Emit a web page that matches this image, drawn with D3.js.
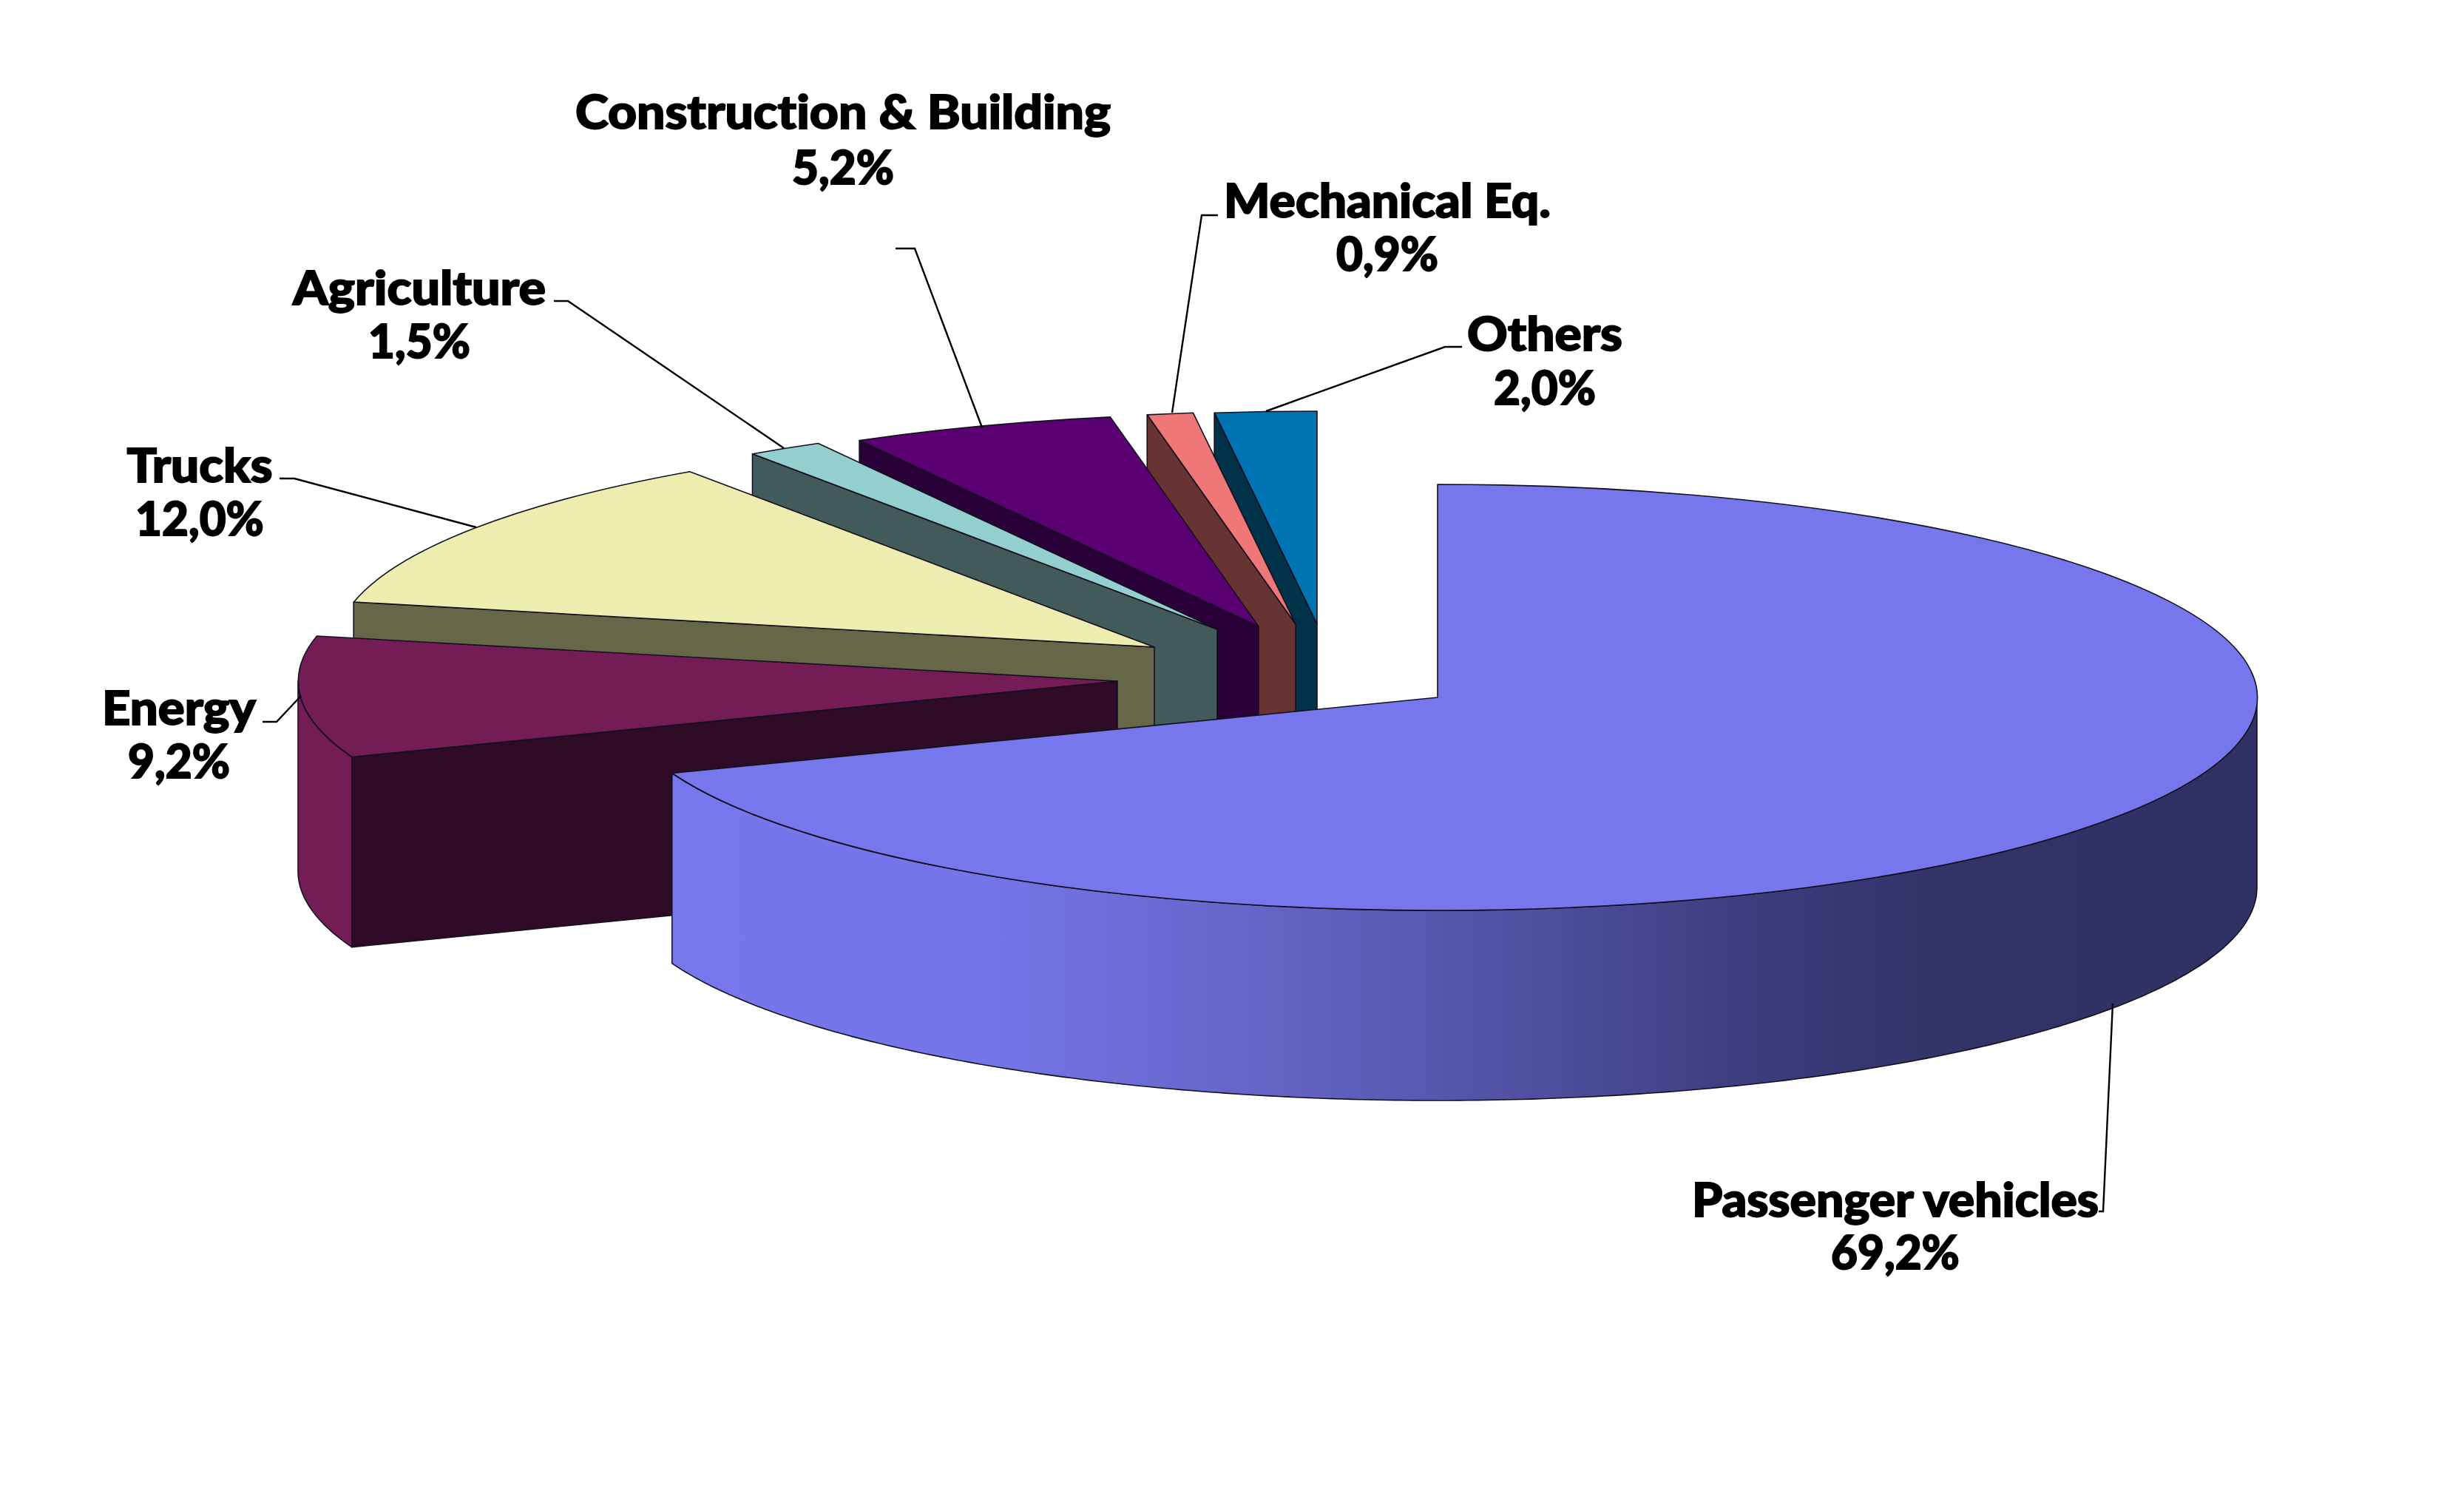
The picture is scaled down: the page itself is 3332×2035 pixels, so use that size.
<!DOCTYPE html>
<html>
<head>
<meta charset="utf-8">
<script src="https://cdn.jsdelivr.net/npm/d3@7"></script>
<style>
  html, body { margin: 0; background: #fff; }
  svg { display: block; }
  text { font-family: Lato, "Open Sans", sans-serif; font-weight: 900; font-variant-ligatures: none; fill: #000; stroke: #000; stroke-width: 1.8px; text-anchor: middle; }
</style>
</head>
<body>
<svg id="chart" width="3332" height="2035"></svg>
<script>
// Sector shares, in percent, clockwise from twelve o'clock
const sectors = ["Passenger vehicles", "Energy", "Trucks", "Agriculture", "Construction & Building", "Mechanical Eq.", "Others"];
const shares = [69.2, 9.2, 12.0, 1.5, 5.2, 0.9, 2.0];
const shareLabels = ["69,2%", "9,2%", "12,0%", "1,5%", "5,2%", "0,9%", "2,0%"];

// Fill colours: top surface and the darker radial cut face
const topColors = ["#7677ed", "#731c56", "#eeedb0", "#93cfcf", "#5a0073", "#ef7777", "#0074b3"];
const faceColors = ["#2f3063", "#2f0b27", "#666648", "#435a5a", "#2a0038", "#673333", "#003349"];

// Where each wedge's apex sits once pulled out of the disc
const apexX = [1944, 1511, 1561, 1646, 1702, 1752, 1781];
const apexY = [943, 921, 875, 851, 847, 844, 844];

// Label placement: centre x, name baseline, share baseline, name width
const labelX = [2563, 242, 270, 567, 1140, 1876, 2089];
const labelNameY = [1645, 980, 652, 412, 174, 294, 474];
const labelShareY = [1716, 1052, 724, 484, 249, 366, 547];
const labelWidth = [550, 208, 197, 342, 724, 442, 210];

// Leader lines, one polyline per sector
const leaders = [
  [[2857, 1357], [2844, 1638], [2838, 1638]],
  [[355, 976], [374, 976], [407, 941]],
  [[378, 647], [398, 647], [644, 713]],
  [[749, 407], [768, 407], [1060, 606]],
  [[1211, 336], [1237, 336], [1328, 578]],
  [[1647, 291], [1625, 291], [1585, 558]],
  [[1977, 469], [1954, 469], [1712, 556]]
];

const radiusX = 1108, radiusY = 288, depth = 257;
const outline = "#14101e";

const svg = d3.select("#chart");

const arcs = d3.pie().sort(null).startAngle(0).endAngle(2 * Math.PI)(shares);

// Tilted-disc projection: angle 0 is straight up, growing clockwise
const project = (i, a, drop = 0) => [
  apexX[i] + radiusX * Math.sin(a),
  apexY[i] - radiusY * Math.cos(a) + drop
];

const sliceTop = d3.arc().innerRadius(0).outerRadius(1);
const poly = d3.line();

// Outer wall between two angles, following the rim at both heights
function wallPath(i, a0, a1) {
  const n = Math.max(2, Math.ceil(Math.abs(a1 - a0) * 90));
  const angles = d3.range(n + 1).map(k => a0 + (a1 - a0) * k / n);
  const upper = angles.map(a => project(i, a));
  const lower = angles.map(a => project(i, a, depth)).reverse();
  return poly(upper.concat(lower)) + "Z";
}

// Shading across the large wedge's rim, dark toward the right
const defs = svg.append("defs");
const rimShade = defs.append("linearGradient")
  .attr("id", "rimShade")
  .attr("gradientUnits", "userSpaceOnUse")
  .attr("x1", 909).attr("x2", 3052).attr("y1", 0).attr("y2", 0);
[[0, "#7677ed"], [0.2, "#7475e8"], [0.38, "#6364c4"], [0.55, "#4e4f9e"], [0.68, "#3c3d7e"], [0.8, "#323367"], [1, "#2f3063"]]
  .forEach(([o, c]) => rimShade.append("stop").attr("offset", o).attr("stop-color", c));

const strokeStyle = s => s.attr("stroke", outline).attr("stroke-width", 1.6).attr("stroke-linejoin", "round");

// Paint back to front: the last wedge is furthest away, the big one nearest
d3.range(sectors.length).reverse().forEach(i => {
  const d = arcs[i];
  const g = svg.append("g").attr("class", "slice");
  const isMain = i === 0;

  if (!isMain) {
    // Radial cut face on the wedge's leading edge
    const p0 = project(i, d.startAngle);
    const apex = [apexX[i], apexY[i]];
    g.append("path")
      .attr("d", poly([apex, p0, [p0[0], p0[1] + depth], [apex[0], apex[1] + depth]]) + "Z")
      .attr("fill", faceColors[i]).call(strokeStyle);
  }

  // Outer rim where it faces the viewer (between 90 and 270 degrees)
  const from = Math.max(d.startAngle, Math.PI / 2);
  const to = Math.min(d.endAngle, 3 * Math.PI / 2);
  if (to > from) {
    g.append("path")
      .attr("d", wallPath(i, from, to))
      .attr("fill", isMain ? "url(#rimShade)" : topColors[i])
      .call(strokeStyle);
  }

  g.append("path")
    .attr("d", sliceTop(d))
    .attr("transform", `translate(${apexX[i]},${apexY[i]}) scale(${radiusX},${radiusY})`)
    .attr("vector-effect", "non-scaling-stroke")
    .attr("fill", topColors[i]).call(strokeStyle);
});

// Leader lines sit above the wedges
svg.append("g").selectAll("path").data(leaders).join("path")
  .attr("d", poly)
  .attr("fill", "none").attr("stroke", "#000").attr("stroke-width", 2.4);

// Two-line labels: sector name, then its share
const labels = svg.append("g").selectAll("g").data(sectors).join("g");
labels.append("text")
  .attr("x", (_, i) => labelX[i]).attr("y", (_, i) => labelNameY[i])
  .attr("font-size", 62)
  .attr("textLength", (_, i) => labelWidth[i])
  .attr("lengthAdjust", "spacingAndGlyphs")
  .text(d => d);
labels.append("text")
  .attr("x", (_, i) => labelX[i]).attr("y", (_, i) => labelShareY[i])
  .attr("font-size", 62)
  .text((_, i) => shareLabels[i]);
</script>
</body>
</html>
